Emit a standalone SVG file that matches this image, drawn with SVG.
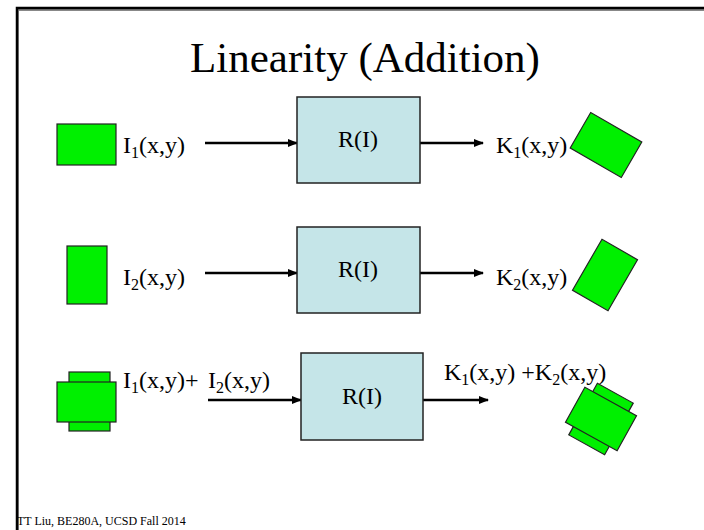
<svg xmlns="http://www.w3.org/2000/svg" width="704" height="530" viewBox="0 0 704 530">
<style>
text{font-family:"Liberation Serif","Times New Roman",serif;fill:#000}
.lbl{font-size:24px}
.sub{font-size:16px}
.box{fill:#C5E5E8;stroke:#222;stroke-width:1.5}
.g{fill:#00F000;stroke:#222;stroke-width:1.2}
.arr{stroke:#000;stroke-width:2.5;fill:none;marker-end:url(#ah)}
</style>
<defs>
<marker id="ah" markerWidth="10" markerHeight="8" refX="9" refY="4" orient="auto" markerUnits="userSpaceOnUse">
<path d="M0,0 L10,4 L0,8 Z" fill="#000"/>
</marker>
</defs>
<rect width="704" height="530" fill="#fff"/>
<g id="frame">
<path d="M17,530 V9 H704" stroke="#888" stroke-width="2" fill="none" transform="translate(1,1)"/>
<path d="M17,530 V8 H704" stroke="#000" stroke-width="2.5" fill="none"/>
</g>
<text id="title" x="365" y="72" font-size="43" text-anchor="middle">Linearity (Addition)</text>

<g id="connectors">
<line class="arr" x1="205" y1="143" x2="297" y2="143"/>
<line class="arr" x1="420" y1="143" x2="483" y2="143"/>
<line class="arr" x1="205" y1="273" x2="297" y2="273"/>
<line class="arr" x1="420" y1="273" x2="483" y2="273"/>
<line class="arr" x1="208" y1="400" x2="301" y2="400"/>
<line class="arr" x1="423" y1="400" x2="488" y2="400"/>
</g>

<g id="in1">
<rect class="g" x="57" y="124" width="59" height="41"/>
<text class="lbl" x="123" y="153">I<tspan class="sub" dy="5">1</tspan><tspan dy="-5">(x,y)</tspan></text>
</g>
<g id="sys1">
<rect class="box" x="297" y="97" width="123" height="86"/>
<text class="lbl" x="358" y="147" text-anchor="middle">R(I)</text>
</g>
<g id="out1">
<text class="lbl" x="496" y="153">K<tspan class="sub" dy="5">1</tspan><tspan dy="-5">(x,y)</tspan></text>
<rect class="g" x="-29.5" y="-20.5" width="59" height="41" transform="translate(606,145) rotate(30)"/>
</g>

<g id="in2">
<rect class="g" x="67" y="246" width="40" height="58"/>
<text class="lbl" x="123" y="285">I<tspan class="sub" dy="5">2</tspan><tspan dy="-5">(x,y)</tspan></text>
</g>
<g id="sys2">
<rect class="box" x="297" y="227" width="123" height="86"/>
<text class="lbl" x="358" y="277" text-anchor="middle">R(I)</text>
</g>
<g id="out2">
<text class="lbl" x="496" y="285">K<tspan class="sub" dy="5">2</tspan><tspan dy="-5">(x,y)</tspan></text>
<rect class="g" x="-20.5" y="-29.5" width="41" height="59" transform="translate(605,275) rotate(30)"/>
</g>

<g id="in3">
<rect class="g" x="69" y="372" width="41" height="59"/>
<rect class="g" x="57" y="382" width="59" height="40"/>
<text class="lbl" x="123" y="388">I<tspan class="sub" dy="5">1</tspan><tspan dy="-5">(x,y)+</tspan></text>
<text class="lbl" x="208" y="388">I<tspan class="sub" dy="5">2</tspan><tspan dy="-5">(x,y)</tspan></text>
</g>
<g id="sys3">
<rect class="box" x="301" y="353" width="122" height="87"/>
<text class="lbl" x="362" y="404" text-anchor="middle">R(I)</text>
</g>
<g id="out3">
<text class="lbl" x="444" y="380">K<tspan class="sub" dy="5">1</tspan><tspan dy="-5">(x,y) +K</tspan><tspan class="sub" dy="5">2</tspan><tspan dy="-5">(x,y)</tspan></text>
<g transform="translate(601,419) rotate(29)">
<rect class="g" x="-20.5" y="-29.5" width="41" height="59"/>
<rect class="g" x="-29.5" y="-20" width="59" height="40"/>
</g>
</g>

<text id="footer" x="17" y="525" font-size="12">TT Liu, BE280A, UCSD Fall 2014</text>
</svg>
